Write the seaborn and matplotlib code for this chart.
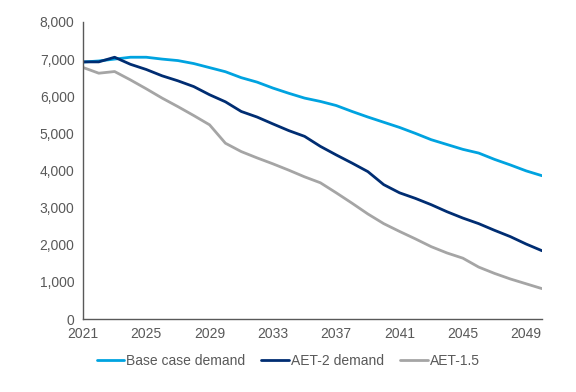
import numpy as np
import pandas as pd
import matplotlib
matplotlib.use('Agg')
import matplotlib.pyplot as plt
import seaborn as sns

# data
years = list(range(2021, 2051))

base_case = [6920, 6950, 7000, 7050, 7050, 7000, 6960, 6880, 6770, 6660,
             6500, 6380, 6220, 6080, 5950, 5860, 5750, 5590, 5440, 5300,
             5160, 5000, 4830, 4700, 4570, 4470, 4300, 4150, 3990, 3860]

aet2 = [6925, 6925, 7050, 6860, 6720, 6550, 6415, 6260, 6040, 5850,
        5590, 5440, 5255, 5075, 4920, 4650, 4420, 4200, 3970, 3620,
        3400, 3250, 3080, 2890, 2720, 2570, 2390, 2220, 2020, 1840]

aet15 = [6775, 6620, 6665, 6440, 6200, 5950, 5720, 5480, 5230, 4735,
         4510, 4340, 4180, 4010, 3830, 3670, 3400, 3120, 2830, 2570,
         2360, 2160, 1950, 1780, 1640, 1400, 1230, 1080, 950, 820]

series_names = ['Base case demand', 'AET-2 demand', 'AET-1.5']
colors = ['#00A3E0', '#002D72', '#A5A5A5']

df = pd.DataFrame({
    'year': years * 3,
    'value': base_case + aet2 + aet15,
    'series': [series_names[0]] * len(years) + [series_names[1]] * len(years) + [series_names[2]] * len(years),
})

sns.set_style('white')
plt.rcParams['font.family'] = ['Liberation Sans', 'DejaVu Sans']

fig = plt.figure(figsize=(5.76, 3.92), dpi=100)
ax = fig.add_axes([0.144, 0.186, 0.797, 0.758])

sns.lineplot(data=df, x='year', y='value', hue='series', palette=colors,
             linewidth=2.0, ax=ax, legend=True)

ax.set_xlim(2021, 2050)
ax.set_ylim(0, 8000)
ax.set_xticks(range(2021, 2050, 4))
ax.set_yticks(range(0, 8001, 1000))
ax.set_yticklabels([f'{v:,}' for v in range(0, 8001, 1000)])
ax.set_xlabel('')
ax.set_ylabel('')
ax.tick_params(axis='both', length=0, labelsize=10, colors='#595959', pad=6)

for side in ['top', 'right']:
    ax.spines[side].set_visible(False)
for side in ['left', 'bottom']:
    ax.spines[side].set_color('#595959')
    ax.spines[side].set_linewidth(1.0)

handles, labels = ax.get_legend_handles_labels()
ax.get_legend().remove()
fig.legend(handles, labels, loc='center', bbox_to_anchor=(0.5, 0.079), ncol=3,
           frameon=False, fontsize=10, handlelength=2.0, handletextpad=0.1,
           columnspacing=1.2, labelcolor='#595959')

fig.savefig('out.png', dpi=100)
